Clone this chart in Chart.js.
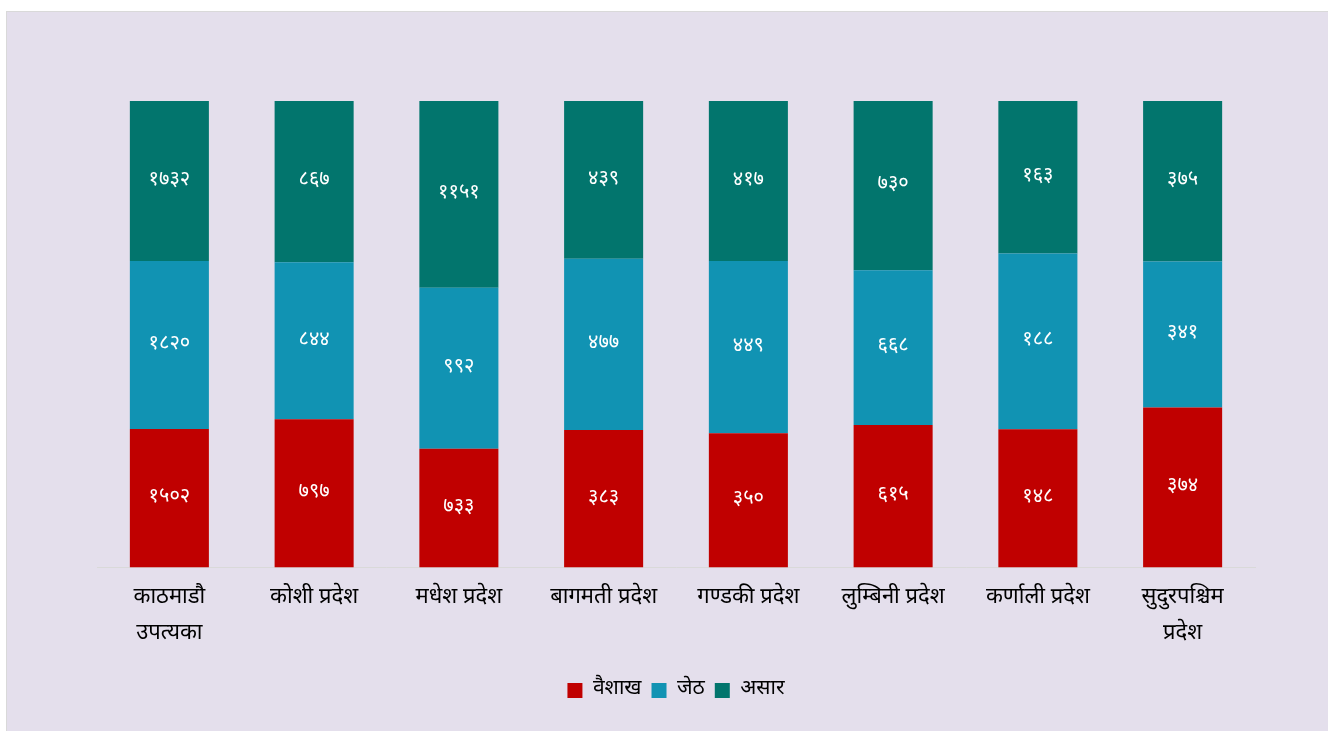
<!DOCTYPE html>
<html>
<head>
<meta charset="utf-8">
<script src="https://cdn.jsdelivr.net/npm/chart.js@4/dist/chart.umd.min.js"></script>
<style>
html,body{margin:0;padding:0;background:#fff;}
#wrap{width:1328px;height:731px;position:relative;}
</style>
</head>
<body>
<div id="wrap"><canvas id="c" width="1328" height="731"></canvas></div>
<script>
const categories = [
  ["काठमाडौ", "उपत्यका"],
  "कोशी प्रदेश",
  "मधेश प्रदेश",
  "बागमती प्रदेश",
  "गण्डकी प्रदेश",
  "लुम्बिनी प्रदेश",
  "कर्णाली प्रदेश",
  ["सुदुरपश्चिम", "प्रदेश"]
];
const seriesNames = ["वैशाख", "जेठ", "असार"];
const baishakh = [1502, 797, 733, 383, 350, 615, 148, 374];
const jestha   = [1820, 844, 992, 477, 449, 668, 188, 341];
const asar     = [1732, 867, 1151, 439, 417, 730, 163, 375];
const colors = ["#C00000", "#1193B3", "#02756D"];

const raw = [baishakh, jestha, asar];
const totals = baishakh.map((v, i) => v + jestha[i] + asar[i]);
const devDigits = "०१२३४५६७८९";
const toDev = n => String(n).replace(/[0-9]/g, d => devDigits[+d]);

const FONT = "'Noto Sans Devanagari', 'Noto Sans', 'DejaVu Sans', sans-serif";

const bgPlugin = {
  id: 'bg',
  beforeDraw(chart) {
    const ctx = chart.ctx;
    ctx.save();
    ctx.fillStyle = '#ffffff';
    ctx.fillRect(0, 0, chart.width, chart.height);
    ctx.fillStyle = '#E4DFEC';
    ctx.fillRect(6.5, 11.5, chart.width, chart.height);
    ctx.strokeStyle = '#D9D9D9';
    ctx.lineWidth = 1;
    ctx.strokeRect(6.5, 11.5, chart.width, chart.height);
    ctx.restore();
  }
};

const labelPlugin = {
  id: 'vals',
  afterDatasetsDraw(chart) {
    const ctx = chart.ctx;
    ctx.save();
    ctx.fillStyle = '#ffffff';
    ctx.font = '20px ' + FONT;
    ctx.textAlign = 'center';
    ctx.textBaseline = 'middle';
    chart.data.datasets.forEach((ds, di) => {
      const meta = chart.getDatasetMeta(di);
      meta.data.forEach((bar, i) => {
        const y = (bar.y + bar.base) / 2;
        ctx.fillText(toDev(raw[di][i]), bar.x, y);
      });
    });
    ctx.restore();
  }
};

new Chart(document.getElementById('c'), {
  type: 'bar',
  data: {
    labels: categories,
    datasets: raw.map((arr, k) => ({
      label: seriesNames[k],
      data: arr.map((v, i) => v / totals[i] * 100),
      backgroundColor: colors[k],
      borderWidth: 0,
      barPercentage: 0.546,
      categoryPercentage: 1
    }))
  },
  options: {
    responsive: false,
    animation: false,
    devicePixelRatio: 1,
    layout: { padding: { left: 97, right: 73, top: 101, bottom: 20 } },
    plugins: {
      legend: {
        position: 'bottom',
        labels: {
          boxWidth: 15, boxHeight: 15, padding: 10,
          color: '#000',
          font: { size: 21, family: FONT }
        }
      },
      tooltip: { enabled: false }
    },
    scales: {
      x: {
        stacked: true,
        grid: { display: false, drawTicks: false },
        border: { display: true, color: '#D9D9D9', width: 1 },
        afterFit: (axis) => { axis.height += 4; },
        ticks: {
          color: '#000', padding: 14, maxRotation: 0, autoSkip: false,
          font: { size: 22, family: FONT, lineHeight: 1.6 }
        }
      },
      y: {
        stacked: true, display: false, min: 0, max: 100
      }
    }
  },
  plugins: [bgPlugin, labelPlugin]
});
</script>
</body>
</html>
